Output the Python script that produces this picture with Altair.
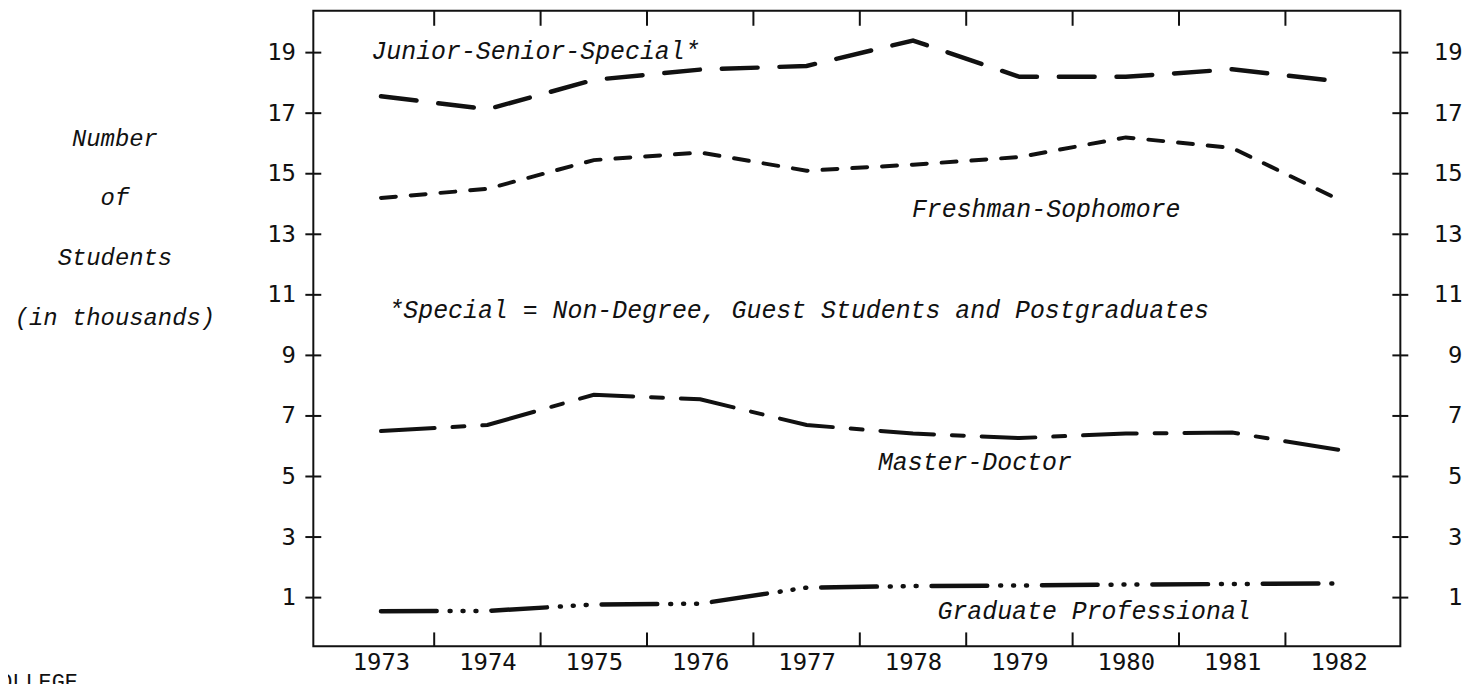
import altair as alt
import pandas as pd

# ---- data (thousands of students) ----
years = [1973, 1974, 1975, 1976, 1977, 1978, 1979, 1980, 1981, 1982]
junior_senior_special = [17.56, 17.13, 18.10, 18.44, 18.56, 19.40, 18.20, 18.20, 18.45, 18.05]
freshman_sophomore = [14.20, 14.50, 15.45, 15.70, 15.10, 15.30, 15.55, 16.20, 15.85, 14.15]
master_doctor = [6.50, 6.70, 7.70, 7.55, 6.70, 6.42, 6.27, 6.42, 6.45, 5.88]
graduate_professional = [0.55, 0.56, 0.77, 0.80, 1.33, 1.38, 1.40, 1.43, 1.45, 1.47]

y_tick_values = [1, 3, 5, 7, 9, 11, 13, 15, 17, 19]
x_tick_values = [1973.5, 1974.5, 1975.5, 1976.5, 1977.5, 1978.5, 1979.5, 1980.5, 1981.5]

ann_text = [
    "Junior-Senior-Special*",
    "*Special = Non-Degree, Guest Students and Postgraduates",
    "Freshman-Sophomore",
    "Master-Doctor",
    "Graduate Professional",
]
ann_year = [1972.91, 1973.07, 1977.99, 1977.67, 1978.23]
ann_value = [19.04, 10.50, 13.85, 5.47, 0.54]

y_title = ["Number", "of", "Students", "(in thousands)"]

# ---- geometry ----
W, H = 1093, 639
X = alt.Scale(domain=[1972.364, 1982.58], nice=False, zero=False)
Y = alt.Scale(domain=[-0.61, 20.38], nice=False, zero=False)
INK = "#111111"
MONO_SANS = "DejaVu Sans Mono"
TYPE = "Liberation Mono"


def series_df(vals):
    return pd.DataFrame({"year": years, "value": vals})


base_axis_x = alt.Axis(
    values=years, format="d", orient="bottom", ticks=False, tickSize=0,
    domain=False, grid=False, labelFont=MONO_SANS, labelFontSize=24,
    labelColor=INK, labelPadding=4, labelOverlap=False, labelFlush=False,
    labelBound=False, title=None,
)
base_axis_y = alt.Axis(
    values=y_tick_values, orient="left", ticks=False, tickSize=0, domain=False,
    grid=False, labelFont=MONO_SANS, labelFontSize=24, labelColor=INK,
    labelPadding=18, labelOverlap=False, labelFlush=False, labelBound=False,
    title=y_title, titleAngle=0, titleFont=TYPE, titleFontStyle="italic",
    titleFontWeight="normal", titleFontSize=24, titleColor=INK,
    titleLineHeight=60, titleAlign="center", titleBaseline="middle",
    titleX=-200, titleY=128,
)

line_junior = alt.Chart(series_df(junior_senior_special)).mark_line(
    color=INK, strokeWidth=4.5, strokeCap="round", strokeDash=[36, 22]
).encode(
    x=alt.X("year:Q", scale=X, axis=base_axis_x),
    y=alt.Y("value:Q", scale=Y, axis=base_axis_y),
)


def plain_line(vals, dash, width=4):
    return alt.Chart(series_df(vals)).mark_line(
        color=INK, strokeWidth=width, strokeCap="round", strokeDash=dash
    ).encode(
        x=alt.X("year:Q", scale=X, axis=None),
        y=alt.Y("value:Q", scale=Y, axis=None),
    )


line_fresh = plain_line(freshman_sophomore, [15, 15])
line_master = plain_line(master_doctor, [54, 18, 12, 18])
line_grad = plain_line(graduate_professional, [56, 13, 1, 12, 1, 12, 1, 15], 4.5)

ann_df = pd.DataFrame({"text": ann_text, "ax": ann_year, "ay": ann_value})
annotations = alt.Chart(ann_df).mark_text(
    align="left", baseline="middle", font=TYPE, fontStyle="italic",
    fontSize=25, color=INK,
).encode(
    x=alt.X("ax:Q", scale=X, axis=None),
    y=alt.Y("ay:Q", scale=Y, axis=None),
    text="text:N",
)

yt = pd.DataFrame({"t": y_tick_values})
xt = pd.DataFrame({"t": x_tick_values})

left_ticks = alt.Chart(yt).mark_rule(color=INK, strokeWidth=2).encode(
    y=alt.Y("t:Q", scale=Y, axis=None), x=alt.value(-8), x2=alt.value(8)
)
right_ticks = alt.Chart(yt).mark_rule(color=INK, strokeWidth=2).encode(
    y=alt.Y("t:Q", scale=Y, axis=alt.Axis(
        values=y_tick_values, orient="right", ticks=False, tickSize=0,
        domain=False, grid=False, labelFont=MONO_SANS, labelFontSize=24,
        labelColor=INK, labelPadding=62, labelAlign="right",
        labelOverlap=False, labelFlush=False, labelBound=False, title=None,
    )),
    x=alt.value(W - 8), x2=alt.value(W + 8),
)
top_ticks = alt.Chart(xt).mark_rule(color=INK, strokeWidth=2).encode(
    x=alt.X("t:Q", scale=X, axis=None), y=alt.value(0), y2=alt.value(15)
)
bottom_ticks = alt.Chart(xt).mark_rule(color=INK, strokeWidth=2).encode(
    x=alt.X("t:Q", scale=X, axis=None), y=alt.value(H - 14), y2=alt.value(H)
)

corner_text = alt.Chart(pd.DataFrame({"text": ["COLLEGE"]})).mark_text(
    align="left", baseline="alphabetic", font=TYPE, fontSize=22, color=INK
).encode(x=alt.value(-329), y=alt.value(682), text="text:N")

chart = alt.layer(
    line_junior, line_fresh, line_master, line_grad, annotations,
    left_ticks, right_ticks, top_ticks, bottom_ticks, corner_text,
).resolve_scale(x="independent", y="independent").properties(
    width=W, height=H,
    autosize=alt.AutoSizeParams(type="none"),
    padding={"left": 307, "top": 1, "right": 62, "bottom": 36},
    background="white",
).configure_view(stroke=INK, strokeWidth=2)

chart.save("out.html", embed_options={"renderer": "svg", "actions": False})
